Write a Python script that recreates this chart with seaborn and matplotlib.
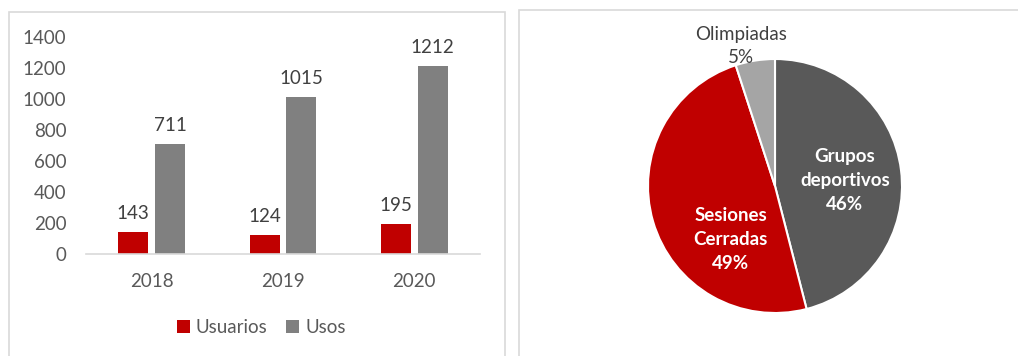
import matplotlib
matplotlib.use("Agg")
import matplotlib.pyplot as plt
import seaborn as sns
import pandas as pd
import numpy as np
from matplotlib.patches import Rectangle

# ---- data ----
years = ["2018", "2019", "2020"]
usuarios = [143, 124, 195]
usos = [711, 1015, 1212]
series_names = ["Usuarios", "Usos"]

pie_labels = ["Grupos\ndeportivos", "Sesiones\nCerradas", "Olimpiadas"]
pie_values = [46, 49, 5]

sns.set_theme(style="white")
plt.rcParams["font.family"] = ["Lato", "DejaVu Sans"]

W, H = 1018, 356
fig = plt.figure(figsize=(W / 100, H / 100), dpi=100)
fig.patch.set_facecolor("white")

def fx(px):
    return px / W

def fy(py):
    return 1 - py / H

# panel borders
fig.add_artist(Rectangle((fx(9), fy(360)), fx(505) - fx(9), fy(12) - fy(360),
                         transform=fig.transFigure, fill=False, edgecolor="#D9D9D9", lw=1.2))
fig.add_artist(Rectangle((fx(519), fy(360)), fx(1030) - fx(519), fy(10) - fy(360),
                         transform=fig.transFigure, fill=False, edgecolor="#D9D9D9", lw=1.2))

TXT = "#595959"
FS = 13.5

# ---- bar chart ----
df = pd.DataFrame({
    "year": years * 2,
    "value": usuarios + usos,
    "serie": [series_names[0]] * 3 + [series_names[1]] * 3,
})
ax = fig.add_axes([fx(86), fy(254), fx(480) - fx(86), fy(37) - fy(254)])
sns.barplot(data=df, x="year", y="value", hue="serie", ax=ax,
            palette=["#C00000", "#808080"], width=0.56, gap=0.19,
            saturation=1, linewidth=0, errorbar=None)
ax.set_xlim(-0.5, 2.5)
ax.set_ylim(0, 1400)
ax.set_yticks(range(0, 1401, 200))
ax.set_xlabel("")
ax.set_ylabel("")
for s in ["top", "right", "left"]:
    ax.spines[s].set_visible(False)
ax.spines["bottom"].set_color("#D9D9D9")
ax.spines["bottom"].set_linewidth(1.2)
ax.tick_params(axis="both", length=0, labelsize=FS, colors=TXT)
ax.tick_params(axis="y", pad=14)
ax.tick_params(axis="x", pad=14)
for c in ax.containers:
    ax.bar_label(c, padding=7, fontsize=FS, color="#404040")
ax.legend(loc="center", bbox_to_anchor=(0.445, -0.34), ncol=2, frameon=False,
          fontsize=FS, handlelength=0.7, handleheight=0.7, handletextpad=0.3,
          columnspacing=1.0, labelcolor=TXT)

# ---- pie chart ----
R = 127
ax2 = fig.add_axes([fx(775 - R), fy(186 + R), fx(2 * R), fy(0) - fy(2 * R)])
wedges, _ = ax2.pie(pie_values, colors=["#595959", "#C00000", "#A5A5A5"],
                    startangle=90, counterclock=False,
                    wedgeprops=dict(edgecolor="white", linewidth=1.5))
ax2.set_xlim(-1, 1)
ax2.set_ylim(-1, 1)
ax2.axis("off")

pcts = [f"{v}%" for v in pie_values]
ax2.text(0.55, 0.04, f"{pie_labels[0]}\n{pcts[0]}", ha="center", va="center",
         color="white", fontsize=FS, fontweight="bold", linespacing=1.5)
ax2.text(-0.35, -0.42, f"{pie_labels[1]}\n{pcts[1]}", ha="center", va="center",
         color="white", fontsize=FS, fontweight="bold", linespacing=1.5)
ax2.text(-0.27, 1.10, f"{pie_labels[2]}\n{pcts[2]}", ha="center", va="center",
         color="#404040", fontsize=FS, linespacing=1.45)

fig.savefig("out.png", dpi=100, facecolor="white")
